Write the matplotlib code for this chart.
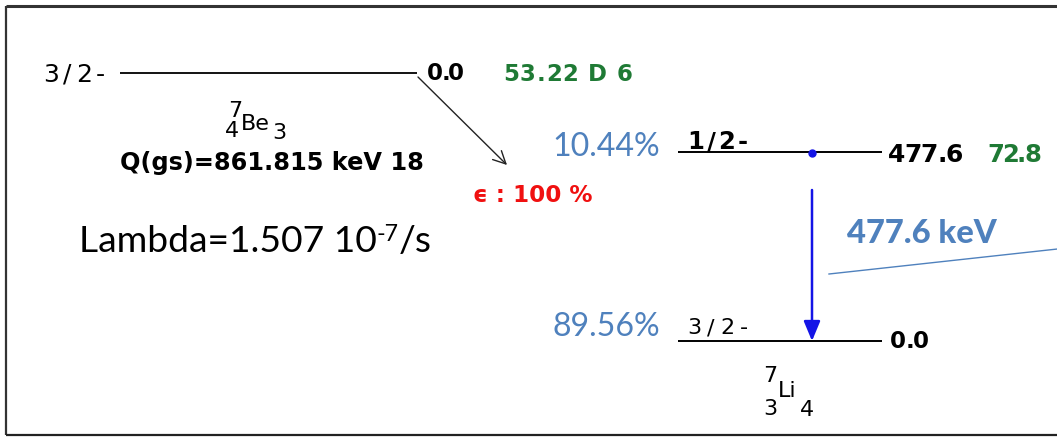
import matplotlib
matplotlib.use("Agg")
import matplotlib.pyplot as plt
from matplotlib.patches import FancyArrowPatch
from matplotlib.font_manager import FontProperties

# ---------------- data ----------------
parent_symbol = ["Be", "7", "4", "3"]          # symbol, A, Z, N
parent_energies = [0.0]
parent_spins = ["3/2-"]
parent_halflives = ["53.22 D 6"]
q_value_label = "Q(gs)=861.815 keV 18"
decay_mode_label = "\u03f5 : 100 %"
lambda_parts = ["Lambda=1.507 10", "-7", "/s"]

daughter_symbol = ["Li", "7", "3", "4"]
daughter_energies = [477.6, 0.0]
daughter_spins = ["1/2-", "3/2-"]
daughter_halflives = ["72.8", ""]
branchings = ["10.44%", "89.56%"]
gamma_energies = [477.6]
gamma_label = "477.6 keV"

# ---------------- figure ----------------
W, H = 1057, 437
fig = plt.figure(figsize=(W / 100, H / 100), dpi=100)
ax = fig.add_axes([0, 0, 1, 1])
ax.set_xlim(0, W)
ax.set_ylim(H, 0)
ax.axis("off")
renderer = fig.canvas.get_renderer()

NNDC = ["DejaVu Sans Condensed", "DejaVu Sans"]
OFFICE = "Lato"
BLUE_TXT = "#4f81bd"
GREEN = "#1f7a35"
RED = "#f01010"
GAMMA = "#1414e6"


def fit_text(s, x0, x1, base, fit=None, family=NNDC, **kw):
    t = ax.text(x0, base, fit or s, ha="left", va="baseline", fontsize=20,
                family=family, **kw)
    w = t.get_window_extent(renderer).width
    t.set_fontsize(20 * (x1 - x0) / w)
    t.set_text(s)
    return t


def tracked(s, x0, x1, base, size, family=NNDC, weight="normal", color="black"):
    fp = FontProperties(family=family, weight=weight, size=size)
    ws = [renderer.get_text_width_height_descent(ch, fp, ismath=False)[0] for ch in s]
    extra = ((x1 - x0) - sum(ws)) / max(len(s) - 1, 1)
    x = x0
    for ch, w in zip(s, ws):
        ax.text(x, base, ch, fontproperties=fp, color=color, ha="left", va="baseline")
        x += w + extra


def nuclide(sym, cx_sym, base_sym, cx_a, base_a, cx_z, base_z, cx_n, base_n, size=16):
    name, a, z, n = sym
    kw = dict(family=NNDC, fontsize=size, ha="center", va="baseline", weight="medium")
    ax.text(cx_sym, base_sym, name, **kw)
    ax.text(cx_a, base_a, a, **kw)
    ax.text(cx_z, base_z, z, **kw)
    ax.text(cx_n, base_n, n, **kw)


# frame
fc = "#333333"
ax.plot([W + 5, 6], [5.5, 5.5], color=fc, lw=2.2, solid_capstyle="butt")
ax.plot([6, 6], [5.5, 435], color=fc, lw=1.6, solid_capstyle="butt")
ax.plot([6, W + 5], [435, 435], color="#222222", lw=1.6, solid_capstyle="butt")

# ---------------- parent ----------------
py = 73  # parent ground-state level position
for e, sp, hl in zip(parent_energies, parent_spins, parent_halflives):
    ax.plot([120, 417], [py, py], color="black", lw=1.3, solid_capstyle="butt")
    tracked(sp, 43, 105, 82, 18)
    tracked(f"{e:.1f}", 427, 464, 80, 16.5, weight="bold")
    tracked(hl, 503, 632, 81, 16.5, weight="bold", color=GREEN)

nuclide(parent_symbol, 255, 130, 235, 117, 232, 137, 279, 139)
fit_text(q_value_label, 120, 423, 170, weight="bold")

ax.add_patch(FancyArrowPatch((418, 77), (507, 165),
                             arrowstyle="->,head_length=9,head_width=4.5",
                             mutation_scale=1, color="#222222", lw=1.0,
                             shrinkA=0, shrinkB=0))
fit_text(decay_mode_label, 473, 592, 202, weight="bold", color=RED)

# lambda
t1 = fit_text(lambda_parts[0], 79, 377, 252, family=OFFICE, color="black")
fs = t1.get_fontsize()
ax.text(377, 241, lambda_parts[1], family=OFFICE, fontsize=fs * 0.62,
        ha="left", va="baseline", color="black")
ax.text(399, 252, lambda_parts[2], family=OFFICE, fontsize=fs,
        ha="left", va="baseline", color="black")

# ---------------- daughter ----------------
y_top, y_gs = 152, 341


def ylev(e):
    return y_gs - e * (y_gs - y_top) / max(daughter_energies)


spin_base = {0: (149, 17.5, "bold"), 1: (334, 16, "medium")}
en_base = {0: (888, 963, 162, 18), 1: (890, 929, 348, 16.5)}
for i, (e, sp, hl, br) in enumerate(zip(daughter_energies, daughter_spins,
                                         daughter_halflives, branchings)):
    y = ylev(e)
    ax.plot([678, 882], [y, y], color="black", lw=1.4, solid_capstyle="butt")
    b, s, wgt = spin_base[i]
    tracked(sp, 687, 748, b, s, weight=wgt)
    x0, x1, b2, sz = en_base[i]
    tracked(f"{e:.1f}", x0, x1, b2, sz, weight="bold")
    if hl:
        tracked(hl, 987, 1041, b2, 17.5, weight="bold", color=GREEN)
    fit_text(br, 552, 660, y + 4 if i == 0 else y - 5, family=OFFICE, color=BLUE_TXT)

nuclide(daughter_symbol, 787, 397, 770, 382, 770, 415, 807, 416)

# gamma transition
gx = 812
for eg in gamma_energies:
    ax.plot([gx], [ylev(eg) + 1], "o", ms=5, color=GAMMA, mec=GAMMA)
    ax.add_patch(FancyArrowPatch((gx, 190), (gx, ylev(eg - eg)),
                                 arrowstyle="-|>,head_length=12,head_width=5",
                                 mutation_scale=1, color=GAMMA, lw=1.8,
                                 shrinkA=0, shrinkB=0))
    fit_text(gamma_label, 847, 997, 243, family=OFFICE, weight=900, color=BLUE_TXT)
    ax.plot([829, 1062], [274, 248.5], color=BLUE_TXT, lw=1.0)

fig.savefig("out.png", dpi=100)
